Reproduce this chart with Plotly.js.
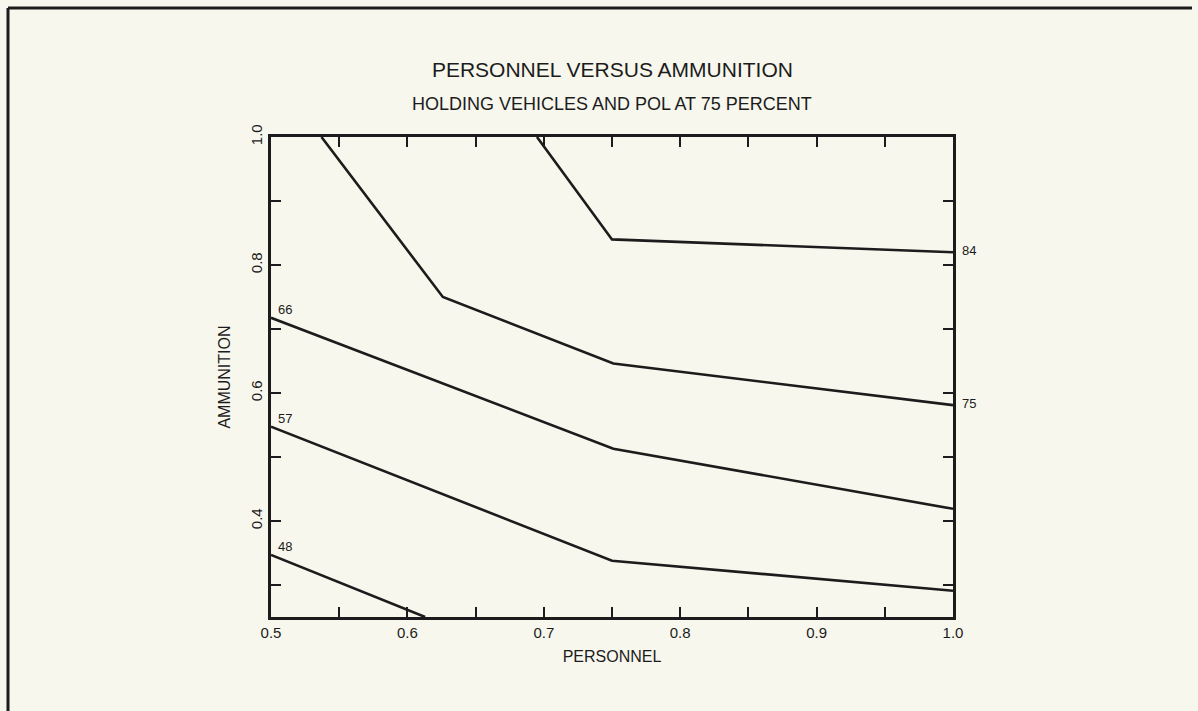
<!DOCTYPE html>
<html>
<head>
<meta charset="utf-8">
<script src="https://cdn.plot.ly/plotly-3.0.1.min.js"></script>
<style>
  html, body { margin: 0; padding: 0; background: #f7f7ed; }
  #chart { width: 1198px; height: 711px; }
</style>
</head>
<body>
<div id="chart"></div>
<script>
// Contour levels (percent) and their polylines (personnel, ammunition)
const levels = ['84', '75', '66', '57', '48'];
const labelSide = ['right', 'right', 'left', 'left', 'left'];

const personnel84 = [0.695, 0.75, 1.0];
const ammunition84 = [1.0, 0.840, 0.820];

const personnel75 = [0.537, 0.626, 0.751, 1.0];
const ammunition75 = [1.0, 0.750, 0.646, 0.581];

const personnel66 = [0.5, 0.751, 1.0];
const ammunition66 = [0.7175, 0.513, 0.419];

const personnel57 = [0.5, 0.75, 1.0];
const ammunition57 = [0.5474, 0.338, 0.291];

const personnel48 = [0.5, 0.613];
const ammunition48 = [0.347, 0.25];

const xs = [personnel84, personnel75, personnel66, personnel57, personnel48];
const ys = [ammunition84, ammunition75, ammunition66, ammunition57, ammunition48];

const titleText = 'PERSONNEL VERSUS AMMUNITION';
const subtitleText = 'HOLDING VEHICLES AND POL AT 75 PERCENT';
const xTitle = 'PERSONNEL';
const yTitle = 'AMMUNITION';

const ink = '#1c1c1c';
const FONT = 'Liberation Sans, Arial, sans-serif';

const traces = levels.map((lv, i) => ({
  type: 'scatter',
  mode: 'lines',
  name: lv,
  x: xs[i],
  y: ys[i],
  line: { color: ink, width: 2.6 },
  hoverinfo: 'x+y+name',
  showlegend: false
}));

const annotations = levels.map((lv, i) => {
  const n = xs[i].length;
  if (labelSide[i] === 'right') {
    return {
      x: xs[i][n - 1], y: ys[i][n - 1], xref: 'x', yref: 'y',
      text: lv, showarrow: false, xanchor: 'left', yanchor: 'middle',
      xshift: 7, yshift: 2, font: { family: FONT, size: 13, color: ink }
    };
  }
  return {
    x: xs[i][0], y: ys[i][0], xref: 'x', yref: 'y',
    text: lv, showarrow: false, xanchor: 'left', yanchor: 'bottom',
    xshift: 5, yshift: -1, font: { family: FONT, size: 13, color: ink }
  };
});

annotations.push({
  x: 0.5, y: 1.06875, xref: 'paper', yref: 'paper',
  text: subtitleText, showarrow: false, xanchor: 'center', yanchor: 'middle',
  font: { family: FONT, size: 18, color: ink }
});

const axisCommon = {
  showline: true, linecolor: ink, linewidth: 2.6, mirror: 'ticks',
  ticks: 'inside', ticklen: 10, tickwidth: 2, tickcolor: ink,
  showgrid: false, zeroline: false,
  tickfont: { family: FONT, size: 15, color: ink },
  tickformat: '.1f'
};

const layout = {
  width: 1198, height: 711,
  margin: { l: 271, r: 245, t: 137, b: 94 },
  paper_bgcolor: '#f7f7ed', plot_bgcolor: '#f7f7ed',
  title: {
    text: titleText, x: 0.5112, xanchor: 'center', y: 1 - 70 / 711, yanchor: 'middle',
    font: { family: FONT, size: 21, color: ink }
  },
  xaxis: Object.assign({}, axisCommon, {
    range: [0.5, 1.0], tick0: 0.5, dtick: 0.1,
    minor: { ticks: 'inside', ticklen: 10, tickwidth: 2, tickcolor: ink, dtick: 0.05, tick0: 0.5, showgrid: false },
    title: { text: xTitle, font: { family: FONT, size: 16, color: ink }, standoff: 12 },
    automargin: false
  }),
  yaxis: Object.assign({}, axisCommon, {
    range: [0.25, 1.0], tick0: 0, dtick: 0.2, tickangle: -90,
    minor: { ticks: 'inside', ticklen: 10, tickwidth: 2, tickcolor: ink, dtick: 0.1, tick0: 0, showgrid: false },
    title: { text: yTitle, font: { family: FONT, size: 16, color: ink }, standoff: 14 },
    automargin: false
  }),
  annotations: annotations,
  shapes: [
    // scanned-page frame: top and left border lines
    { type: 'line', xref: 'paper', yref: 'paper', x0: (8 - 271) / 682, x1: (1192 - 271) / 682,
      y0: (617 - 8) / 480, y1: (617 - 8) / 480, line: { color: ink, width: 3 } },
    { type: 'line', xref: 'paper', yref: 'paper', x0: (8 - 271) / 682, x1: (8 - 271) / 682,
      y0: (617 - 8) / 480, y1: (617 - 711) / 480, line: { color: ink, width: 3 } }
  ]
};

Plotly.newPlot('chart', traces, layout, { displayModeBar: false, responsive: false });
</script>
</body>
</html>
